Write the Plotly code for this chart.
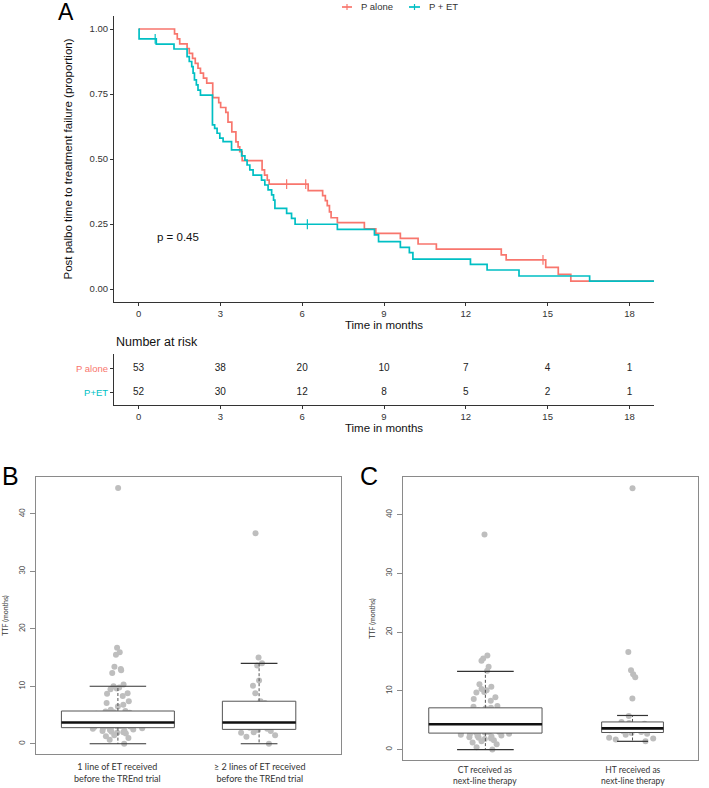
import plotly.graph_objects as go

W, H = 709, 788
RED = "#F8766D"
TEAL = "#00BFC4"
FONT = "Liberation Sans"
FONT_B = "Lato"

# ---------------- Panel A data ----------------
p_alone_t = [0, 1.32, 1.42, 1.51, 1.78, 1.86, 1.98, 2.08, 2.18, 2.27, 2.38, 2.50, 2.72, 2.94, 3.01,
             3.20, 3.28, 3.42, 3.57, 3.65, 3.71, 3.80, 4.53, 4.62, 4.72, 4.79, 6.22, 6.75, 6.85, 6.92,
             7.00, 7.06, 7.29, 8.28, 8.70, 9.60, 10.25, 10.92, 13.30, 13.48, 14.93, 15.39, 15.85, 18.9]
p_alone_s = [1.000, 0.981, 0.962, 0.943, 0.925, 0.906, 0.887, 0.868, 0.849, 0.830, 0.811, 0.792, 0.736, 0.717, 0.698,
             0.679, 0.642, 0.604, 0.566, 0.547, 0.528, 0.494, 0.458, 0.438, 0.419, 0.403, 0.378, 0.359, 0.340, 0.321,
             0.297, 0.274, 0.255, 0.231, 0.214, 0.195, 0.173, 0.153, 0.131, 0.112, 0.083, 0.056, 0.030, 0.030]
p_alone_cens_t = [5.43, 6.13, 14.83]
p_alone_cens_s = [0.403, 0.403, 0.112]

p_et_t = [0, 0.02, 0.65, 1.30, 1.78, 1.86, 1.95, 2.00, 2.05, 2.12, 2.18, 2.27, 2.71, 2.79, 2.88,
          2.98, 3.10, 3.41, 3.78, 3.90, 3.98, 4.08, 4.20, 4.51, 4.63, 4.75, 4.88, 4.95, 5.00, 5.43,
          5.61, 5.74, 7.29, 8.65, 8.80, 9.60, 9.93, 10.06, 12.17, 12.78, 13.95, 16.54, 18.9]
p_et_s = [1.000, 0.962, 0.942, 0.923, 0.894, 0.875, 0.855, 0.830, 0.804, 0.785, 0.765, 0.746, 0.631, 0.618, 0.599,
          0.580, 0.567, 0.535, 0.512, 0.496, 0.477, 0.458, 0.438, 0.419, 0.400, 0.381, 0.362, 0.342, 0.310, 0.291,
          0.272, 0.249, 0.229, 0.208, 0.182, 0.160, 0.140, 0.115, 0.095, 0.073, 0.050, 0.030, 0.030]
p_et_cens_t = [0.61, 6.19]
p_et_cens_s = [0.962, 0.249]

time_ticks = [0, 3, 6, 9, 12, 15, 18]
surv_ticks = [0, 0.25, 0.5, 0.75, 1.0]
surv_tick_labels = ["0.00", "0.25", "0.50", "0.75", "1.00"]
risk_p_alone = [53, 38, 20, 10, 7, 4, 1]
risk_p_et = [52, 30, 12, 8, 5, 2, 1]
groups_a = ["P alone", "P + ET"]
risk_rows = ["P+ET", "P alone"]
p_value_text = "p = 0.45"

# ---------------- Panel B data ----------------
b_labels = ["1 line of ET received<br>before the TREnd trial",
            "≥ 2 lines of ET received<br>before the TREnd trial"]
b_q1 = [2.8, 2.5]
b_med = [3.7, 3.7]
b_q3 = [5.7, 7.4]
b_lo = [0.0, 0.0]
b_hi = [10.0, 14.0]
b_width = [0.8, 0.52]
b_pts_1 = [44.5, 16.7, 15.9, 15.5, 13.4, 13.0, 12.8, 12.3, 10.3, 10.0, 9.8, 9.6, 9.5, 8.8, 8.7, 8.3,
           7.4, 7.1, 6.8, 6.5, 5.9, 5.7, 5.6, 5.5, 5.4, 5.3, 5.2, 5.0, 4.9, 4.8, 4.7, 4.6, 4.5, 4.4,
           4.3, 4.2, 4.1, 4.0, 3.9, 3.8, 3.7, 3.7, 3.6, 3.5, 3.4, 3.3, 3.3, 3.2, 3.1, 3.0, 3.0, 2.9,
           2.9, 2.8, 2.7, 2.7, 2.6, 2.5, 2.4, 2.3, 2.2, 2.1, 2.0, 1.9, 1.8, 1.5, 1.3, 1.0, 0.7, 0.0]
b_pts_2 = [36.6, 15.0, 14.0, 13.6, 11.0, 10.1, 8.8, 7.4, 7.1, 6.9, 6.8, 6.3, 4.5, 4.0, 3.8, 3.7,
           3.5, 3.4, 3.2, 3.0, 2.8, 2.6, 2.4, 2.2, 2.0, 1.9, 1.5, 1.2, 0.0]

# ---------------- Panel C data ----------------
c_labels = ["CT received as<br>next-line therapy", "HT received as<br>next-line therapy"]
c_q1 = [2.8, 2.9]
c_med = [4.3, 3.6]
c_q3 = [7.1, 4.7]
c_lo = [0.0, 1.4]
c_hi = [13.3, 5.8]
c_width = [0.77, 0.42]
c_pts_1 = [36.6, 16.0, 15.5, 15.1, 14.1, 13.4, 11.1, 10.7, 10.3, 10.1, 9.8, 9.7, 8.9, 8.6, 8.3, 7.4,
           7.3, 7.1, 7.0, 6.7, 6.3, 5.9, 5.5, 5.1, 5.0, 4.9, 4.8, 4.7, 4.6, 4.5, 4.5, 4.4, 4.3, 4.3,
           4.2, 4.1, 4.0, 3.9, 3.8, 3.7, 3.6, 3.5, 3.4, 3.3, 3.3, 3.2, 3.1, 3.0, 3.0, 2.9, 2.9, 2.8,
           2.8, 2.7, 2.6, 2.5, 2.4, 2.3, 2.2, 2.1, 2.0, 1.9, 1.8, 1.6, 1.4, 1.2, 0.9, 0.4, 0.0]
c_pts_2 = [44.5, 16.6, 13.5, 12.8, 12.3, 8.7, 5.7, 4.7, 4.5, 4.4, 4.2, 3.9, 3.7, 3.6, 3.5, 3.3,
           3.1, 3.0, 2.8, 2.7, 2.5, 2.0, 1.9, 1.7, 1.4]
ttf_ticks = [0, 10, 20, 30, 40]


def px(xp):
    return xp / W


def py(yp):
    return 1 - yp / H


fig = go.Figure()

# ---------- KM curves ----------
for t, s, col in [(p_alone_t, p_alone_s, RED), (p_et_t, p_et_s, TEAL)]:
    fig.add_trace(go.Scatter(x=t, y=s, mode="lines", line=dict(shape="hv", color=col, width=1.7),
                             xaxis="x", yaxis="y", showlegend=False, hoverinfo="skip"))
for t, s, col in [(p_alone_cens_t, p_alone_cens_s, RED), (p_et_cens_t, p_et_cens_s, TEAL)]:
    fig.add_trace(go.Scatter(x=t, y=s, mode="markers",
                             marker=dict(symbol="line-ns", size=7, line=dict(color=col, width=1.2)),
                             xaxis="x", yaxis="y", showlegend=False, hoverinfo="skip"))

# ---------- risk table ----------
fig.add_trace(go.Scatter(x=time_ticks + time_ticks, y=[2] * len(time_ticks) + [1] * len(time_ticks),
                         text=[str(v) for v in risk_p_alone + risk_p_et], mode="text",
                         textfont=dict(family=FONT, size=10, color="#222"),
                         xaxis="x2", yaxis="y2", showlegend=False, hoverinfo="skip"))


# ---------- box plots ----------
def add_boxes(xa, ya, q1, med, q3, lo, hi, widths, pts_list):
    for i in range(len(q1)):
        xc = i + 1
        w = widths[i]
        fig.add_trace(go.Scatter(x=[xc - w / 2, xc + w / 2, xc + w / 2, xc - w / 2, xc - w / 2],
                                 y=[q1[i], q1[i], q3[i], q3[i], q1[i]], mode="lines", fill="toself",
                                 fillcolor="white", line=dict(color="#555", width=1),
                                 xaxis=xa, yaxis=ya, showlegend=False, hoverinfo="skip"))
        fig.add_trace(go.Scatter(x=[xc, xc, None, xc, xc], y=[q3[i], hi[i], None, q1[i], lo[i]],
                                 mode="lines", line=dict(color="#555", width=1, dash="3px,2px"),
                                 xaxis=xa, yaxis=ya, showlegend=False, hoverinfo="skip"))
        fig.add_trace(go.Scatter(x=[xc - w / 4, xc + w / 4, None, xc - w / 4, xc + w / 4],
                                 y=[hi[i], hi[i], None, lo[i], lo[i]], mode="lines",
                                 line=dict(color="#333", width=1.2),
                                 xaxis=xa, yaxis=ya, showlegend=False, hoverinfo="skip"))
    for i, pts in enumerate(pts_list):
        fig.add_trace(go.Box(y=pts, x=[i + 1] * len(pts), boxpoints="all", jitter=1, pointpos=0,
                             width=0.42, line=dict(width=0, color="rgba(0,0,0,0)"),
                             fillcolor="rgba(0,0,0,0)", marker=dict(color="#BEBEBE", size=6),
                             xaxis=xa, yaxis=ya, showlegend=False, hoverinfo="skip"))
    for i in range(len(q1)):
        xc = i + 1
        w = widths[i]
        fig.add_trace(go.Scatter(x=[xc - w / 2, xc + w / 2], y=[med[i], med[i]], mode="lines",
                                 line=dict(color="#111", width=2.6),
                                 xaxis=xa, yaxis=ya, showlegend=False, hoverinfo="skip"))


add_boxes("x3", "y3", b_q1, b_med, b_q3, b_lo, b_hi, b_width, [b_pts_1, b_pts_2])
add_boxes("x4", "y4", c_q1, c_med, c_q3, c_lo, c_hi, c_width, [c_pts_1, c_pts_2])

axcol = "#333"
km_x = [px(114), px(654)]
common_a = dict(showgrid=False, zeroline=False, showline=True, linecolor=axcol, linewidth=1,
                ticks="outside", ticklen=3, tickcolor=axcol, automargin=False,
                tickfont=dict(family=FONT, size=9.5, color="#333"))

frame_col = "#8a8a8a"
common_b = dict(showgrid=False, zeroline=False, showline=True, mirror=True, linecolor=frame_col,
                linewidth=1, automargin=False)

fig.update_layout(
    width=W, height=H, margin=dict(l=0, r=0, t=0, b=0, autoexpand=False),
    paper_bgcolor="white", plot_bgcolor="white", boxmode="overlay", showlegend=False,
    font=dict(family=FONT, color="#222"),
    xaxis=dict(domain=km_x, range=[-0.9, 18.9], tickvals=time_ticks, anchor="y",
               title=dict(text="Time in months", font=dict(family=FONT, size=11.5, color="#111"), standoff=2),
               **common_a),
    yaxis=dict(domain=[py(302), py(16)], range=[-0.05, 1.05], tickvals=surv_ticks,
               ticktext=surv_tick_labels, anchor="x",
               title=dict(text="Post palbo time to treatment failure (proportion)",
                          font=dict(family=FONT, size=11.5, color="#111"), standoff=14),
               **common_a),
    xaxis2=dict(domain=km_x, range=[-0.9, 18.9], tickvals=time_ticks, anchor="y2",
                title=dict(text="Time in months", font=dict(family=FONT, size=11.5, color="#111"), standoff=2),
                **common_a),
    yaxis2=dict(domain=[py(405), py(354)], range=[0.5, 2.6], tickvals=[1, 2],
                ticktext=['<span style="color:%s">%s</span>' % (TEAL, risk_rows[0]),
                          '<span style="color:%s">%s</span>' % (RED, risk_rows[1])],
                anchor="x2", **common_a),
    xaxis3=dict(domain=[px(36), px(341)], range=[0.42, 2.58], tickvals=[1, 2],
                showticklabels=False, ticks="", anchor="y3", **common_b),
    yaxis3=dict(domain=[py(754), py(477)], range=[-1.78, 46.4], tickvals=ttf_ticks, tickangle=-90,
                ticks="outside", ticklen=5, tickcolor=frame_col, anchor="x3", ticklabelstandoff=2,
                tickfont=dict(family=FONT_B, size=7.5, color="#444"),
                title=dict(text="TTF (months)", font=dict(family=FONT_B, size=7, color="#333"), standoff=8),
                **common_b),
    xaxis4=dict(domain=[px(403), px(698)], range=[0.44, 2.445], tickvals=[1, 2],
                showticklabels=False, ticks="", anchor="y4", **common_b),
    yaxis4=dict(domain=[py(760), py(477)], range=[-1.78, 46.4], tickvals=ttf_ticks, tickangle=-90,
                ticks="outside", ticklen=5, tickcolor=frame_col, anchor="x4", ticklabelstandoff=2,
                tickfont=dict(family=FONT_B, size=7.5, color="#444"),
                title=dict(text="TTF (months)", font=dict(family=FONT_B, size=7, color="#333"), standoff=8),
                **common_b),
)

annotations = [
    dict(text="A", x=px(56), y=py(12), xref="paper", yref="paper", xanchor="left", yanchor="middle",
         showarrow=False, font=dict(family=FONT, size=23, color="black")),
    dict(text="B", x=px(0), y=py(476), xref="paper", yref="paper", xanchor="left", yanchor="middle",
         showarrow=False, font=dict(family=FONT, size=25, color="black")),
    dict(text="C", x=px(358), y=py(476), xref="paper", yref="paper", xanchor="left", yanchor="middle",
         showarrow=False, font=dict(family=FONT, size=25, color="black")),
    dict(text=p_value_text, x=1.45, y=0.2, xref="x", yref="y", showarrow=False,
         font=dict(family=FONT, size=11.5, color="#111")),
    dict(text="Number at risk", x=px(114), y=py(342), xref="paper", yref="paper", xanchor="left",
         yanchor="middle", showarrow=False, font=dict(family=FONT, size=12.5, color="#111")),
    dict(text=groups_a[0], x=px(359), y=py(7), xref="paper", yref="paper", xanchor="left", yanchor="middle",
         showarrow=False, font=dict(family=FONT, size=9.5, color="#333")),
    dict(text=groups_a[1], x=px(427), y=py(7), xref="paper", yref="paper", xanchor="left", yanchor="middle",
         showarrow=False, font=dict(family=FONT, size=9.5, color="#333")),
]
for i, lab in enumerate(b_labels):
    annotations.append(dict(text=lab, x=i + 1, y=py(759), xref="x3", yref="paper", xanchor="center",
                            yanchor="top", showarrow=False, align="center",
                            font=dict(family=FONT_B, size=9, color="#333")))
for i, lab in enumerate(c_labels):
    annotations.append(dict(text=lab, x=i + 1, y=py(763), xref="x4", yref="paper", xanchor="center",
                            yanchor="top", showarrow=False, align="center",
                            font=dict(family=FONT_B, size=8.5, color="#333")))
shapes = []
for x0, x1, xm, col in [(342, 352, 347, RED), (409, 420, 414.5, TEAL)]:
    shapes.append(dict(type="line", xref="paper", yref="paper", x0=px(x0), x1=px(x1), y0=py(7), y1=py(7),
                       line=dict(color=col, width=1.7)))
    shapes.append(dict(type="line", xref="paper", yref="paper", x0=px(xm), x1=px(xm), y0=py(4), y1=py(10),
                       line=dict(color=col, width=1.2)))
fig.update_layout(annotations=annotations, shapes=shapes)

fig.write_html("out.html", config={"displayModeBar": False},
               post_script="document.body.style.margin='0';document.body.style.overflow='hidden';")
